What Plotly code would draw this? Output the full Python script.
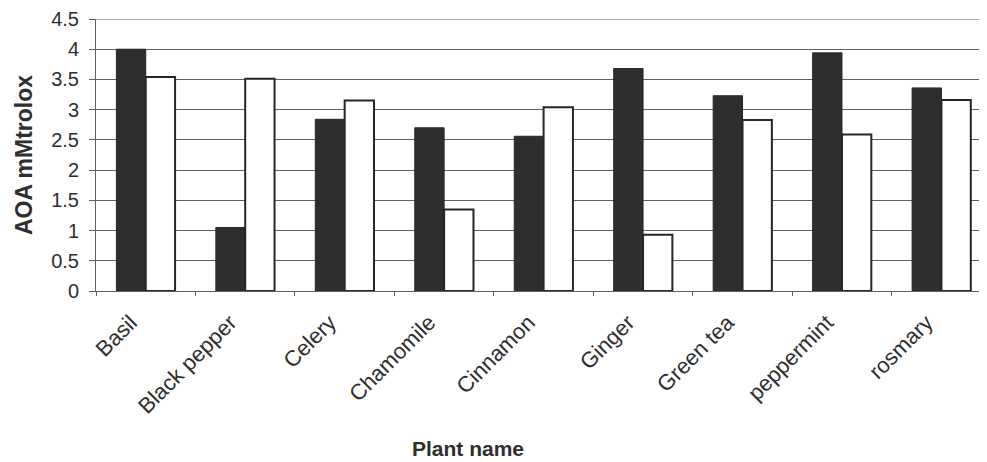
import plotly.graph_objects as go

plants = ["Basil", "Black pepper", "Celery", "Chamomile", "Cinnamon",
          "Ginger", "Green tea", "peppermint", "rosmary"]
series_dark = [4.00, 1.05, 2.84, 2.70, 2.56, 3.68, 3.23, 3.94, 3.36]
series_light = [3.54, 3.51, 3.15, 1.35, 3.04, 0.93, 2.83, 2.59, 3.16]
y_ticks = [0, 0.5, 1, 1.5, 2, 2.5, 3, 3.5, 4, 4.5]

FONT = "Liberation Sans, Arial, sans-serif"
TXT = "#2e2e2e"
GRID = "#606060"

fig = go.Figure()
fig.add_trace(go.Bar(x=plants, y=series_dark, name="dark",
                     marker=dict(color="#2e2e2e", line=dict(color="#262626", width=1))))
fig.add_trace(go.Bar(x=plants, y=series_light, name="light",
                     marker=dict(color="white", line=dict(color="#262626", width=2))))

# page body has an 8px default margin, so the figure is 8px smaller than the window
fig.update_layout(
    width=979, height=454,
    margin=dict(l=88, r=0, t=11, b=171),
    paper_bgcolor="white", plot_bgcolor="white",
    barmode="group", bargap=0.41, bargroupgap=0,
    showlegend=False,
    font=dict(family=FONT, color=TXT),
)
fig.update_yaxes(
    automargin=False,
    range=[0, 4.5], tickvals=y_ticks, ticktext=[f"{v:g}" for v in y_ticks],
    showgrid=True, gridcolor=GRID, gridwidth=1,
    showline=True, linecolor=GRID, linewidth=1,
    tickfont=dict(size=20, color=TXT), ticks="outside", ticklen=6, tickcolor=GRID,
    ticklabelstandoff=6,
    title=dict(text="<b>AOA mMtrolox</b>", font=dict(size=23, color=TXT), standoff=12),
    zeroline=False,
)
fig.update_xaxes(
    automargin=False,
    range=[-0.5, 8.458],
    showline=True, linecolor=GRID, linewidth=1,
    ticks="outside", tickson="boundaries", ticklen=4, tickcolor=GRID,
    tickangle=-45, tickfont=dict(size=22, color=TXT),
    ticklabelshift=-15, ticklabelstandoff=9,
)
fig.add_shape(type="line", xref="paper", yref="y", x0=0, x1=1, y0=4.5, y1=4.5,
              line=dict(color=GRID, width=1))
fig.add_annotation(text="<b>Plant name</b>", xref="paper", yref="paper",
                   x=(468 - 96) / 891, y=(291 - 448) / 272,
                   xanchor="center", yanchor="middle", showarrow=False,
                   font=dict(size=21, color=TXT, family=FONT))
fig.write_html("out.html")
